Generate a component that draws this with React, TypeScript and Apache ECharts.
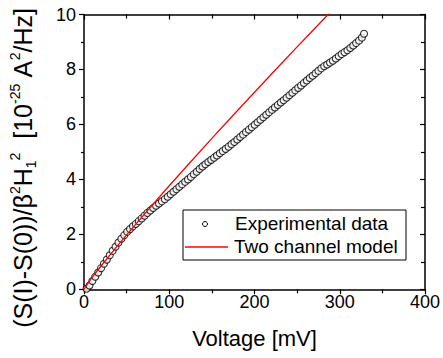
import React, { useEffect, useRef } from "react";
import * as echarts from "echarts";

// Experimental data (voltage in mV, normalized noise in 1e-25 A^2/Hz)
const expVoltage = [
  3.0, 6.4, 9.8, 13.2, 16.6, 20.0, 23.4, 26.8, 30.2, 33.6,
  37.0, 40.4, 43.8, 47.2, 50.6, 54.0, 57.4, 60.8, 64.2, 67.6,
  71.0, 74.4, 77.8, 81.2, 84.6, 88.0, 91.4, 94.8, 98.2, 101.6,
  105.0, 108.4, 111.8, 115.2, 118.6, 122.0, 125.4, 128.8, 132.2, 135.6,
  139.0, 142.4, 145.8, 149.2, 152.6, 156.0, 159.4, 162.8, 166.2, 169.6,
  173.0, 176.4, 179.8, 183.2, 186.6, 190.0, 193.4, 196.8, 200.2, 203.6,
  207.0, 210.4, 213.8, 217.2, 220.6, 224.0, 227.4, 230.8, 234.2, 237.6,
  241.0, 244.4, 247.8, 251.2, 254.6, 258.0, 261.4, 264.8, 268.2, 271.6,
  275.0, 278.4, 281.8, 285.2, 288.6, 292.0, 295.4, 298.8, 302.2, 305.6,
  309.0, 312.4, 315.8, 319.2, 322.6, 326.0, 328.5,
];
const expSignal = [
  0.02, 0.14, 0.3, 0.46, 0.61, 0.77, 0.93, 1.08, 1.24, 1.4,
  1.55, 1.7, 1.84, 1.97, 2.09, 2.19, 2.29, 2.38, 2.48, 2.58,
  2.68, 2.78, 2.87, 2.96, 3.04, 3.12, 3.2, 3.28, 3.37, 3.46,
  3.55, 3.64, 3.73, 3.82, 3.91, 4.0, 4.09, 4.19, 4.28, 4.38,
  4.47, 4.55, 4.63, 4.71, 4.79, 4.87, 4.95, 5.03, 5.11, 5.19,
  5.28, 5.36, 5.45, 5.54, 5.63, 5.72, 5.81, 5.9, 5.99, 6.08,
  6.17, 6.26, 6.35, 6.44, 6.53, 6.62, 6.71, 6.8, 6.88, 6.97,
  7.06, 7.15, 7.24, 7.33, 7.42, 7.51, 7.6, 7.69, 7.77, 7.86,
  7.95, 8.04, 8.12, 8.18, 8.25, 8.32, 8.4, 8.48, 8.56, 8.63,
  8.7, 8.78, 8.87, 8.96, 9.05, 9.16, 9.3,
];

// Two channel model curve
const modelVoltage = [0, 10, 25, 50, 75, 100, 150, 200, 250, 290];
const modelSignal = [0, 0.45, 1.04, 1.98, 2.88, 3.77, 5.49, 7.17, 8.82, 10.12];

const xMin = 0;
const xMax = 400;
const xStep = 100;
const yMin = 0;
const yMax = 10;
const yStep = 2;

const FONT = "'Liberation Sans', Arial, Helvetica, sans-serif";

export default function App() {
  const ref = useRef<HTMLDivElement>(null);

  useEffect(() => {
    if (!ref.current) return;
    const chart = echarts.init(ref.current, null, { renderer: "svg" });

    const expData = expVoltage.map((v, i) => [v, expSignal[i]]);
    const modelData = modelVoltage.map((v, i) => [v, modelSignal[i]]);

    const axisLine = { show: true, onZero: false, lineStyle: { color: "#000", width: 1.5 } };

    const supStyle = { fontSize: 14, lineHeight: 14, verticalAlign: "top", fontFamily: FONT, color: "#000" };
    const subStyle = { fontSize: 14, lineHeight: 14, verticalAlign: "bottom", fontFamily: FONT, color: "#000" };

    const option: any = {
      animation: false,
      backgroundColor: "#fff",
      grid: { left: 84, right: 18, top: 14.5, bottom: 68.7, containLabel: false, outerBoundsMode: "none" },
      xAxis: [
        {
          type: "value",
          position: "bottom",
          min: xMin,
          max: xMax,
          interval: xStep,
          axisLine,
          axisTick: { show: true, inside: false, length: 5, lineStyle: { color: "#000", width: 1.2 } },
          minorTick: { show: true, splitNumber: 2, length: 4, lineStyle: { color: "#000", width: 1.2 } },
          splitLine: { show: false },
          axisLabel: { fontSize: 18, color: "#000", fontFamily: FONT, margin: 4 },
          name: "Voltage [mV]",
          nameLocation: "middle",
          nameGap: 38,
          nameTextStyle: { fontSize: 22, color: "#000", fontFamily: FONT },
        },
        {
          type: "value",
          position: "top",
          min: xMin,
          max: xMax,
          interval: xStep,
          axisLine,
          axisTick: { show: true, inside: true, length: 5, lineStyle: { color: "#000", width: 1.2 } },
          minorTick: { show: true, splitNumber: 2, length: 4, lineStyle: { color: "#000", width: 1.2 } },
          splitLine: { show: false },
          axisLabel: { show: false },
        },
      ],
      yAxis: [
        {
          type: "value",
          position: "left",
          min: yMin,
          max: yMax,
          interval: yStep,
          axisLine,
          axisTick: { show: true, inside: false, length: 5, lineStyle: { color: "#000", width: 1.2 } },
          minorTick: { show: true, splitNumber: 2, length: 3, lineStyle: { color: "#000", width: 1.2 } },
          splitLine: { show: false },
          axisLabel: { fontSize: 18, color: "#000", fontFamily: FONT, margin: 8 },
          name: "(S(I)-S(0))/β{sup|2}H{sub|1}{sup|2}  [10{sup|-25} A{sup|2}/Hz]",
          nameLocation: "middle",
          nameGap: 46,
          nameTextStyle: {
            fontSize: 25,
            lineHeight: 30,
            color: "#000",
            fontFamily: FONT,
            padding: [0, 32, 0, 0],
            rich: { sup: supStyle, sub: subStyle },
          },
        },
        {
          type: "value",
          position: "right",
          min: yMin,
          max: yMax,
          interval: yStep,
          axisLine,
          axisTick: { show: true, inside: true, length: 5, lineStyle: { color: "#000", width: 1.2 } },
          minorTick: { show: true, splitNumber: 2, length: 4, lineStyle: { color: "#000", width: 1.2 } },
          splitLine: { show: false },
          axisLabel: { show: false },
        },
      ],
      series: [
        {
          name: "Experimental data",
          type: "scatter",
          data: expData,
          symbol: "circle",
          symbolSize: 7,
          itemStyle: { color: "#fff", borderColor: "#000", borderWidth: 1.1 },
          z: 2,
        },
        {
          name: "Two channel model",
          type: "line",
          data: modelData,
          showSymbol: false,
          symbol: "none",
          smooth: 0.3,
          lineStyle: { color: "#ff0000", width: 1.3 },
          clip: true,
          z: 3,
        },
      ],
      graphic: [
        {
          type: "rect",
          shape: { x: 183, y: 210, width: 223, height: 50 },
          style: { fill: "#fff", stroke: "#000", lineWidth: 1 },
          z: 10,
        },
        {
          type: "circle",
          shape: { cx: 205, cy: 224, r: 2.5 },
          style: { fill: "#fff", stroke: "#000", lineWidth: 1 },
          z: 11,
        },
        {
          type: "line",
          shape: { x1: 185, y1: 247, x2: 228, y2: 247 },
          style: { stroke: "#ff0000", lineWidth: 1.3 },
          z: 11,
        },
        {
          type: "text",
          x: 235,
          y: 223.5,
          style: { text: "Experimental data", fontSize: 19, fontFamily: FONT, fill: "#000", verticalAlign: "middle", align: "left" },
          z: 11,
        },
        {
          type: "text",
          x: 234,
          y: 246.5,
          style: { text: "Two channel model", fontSize: 19, fontFamily: FONT, fill: "#000", verticalAlign: "middle", align: "left" },
          z: 11,
        },
      ],
    };

    chart.setOption(option);
    return () => chart.dispose();
  }, []);

  return <div ref={ref} style={{ width: 443, height: 358, position: "absolute", left: 0, top: 0 }} />;
}
